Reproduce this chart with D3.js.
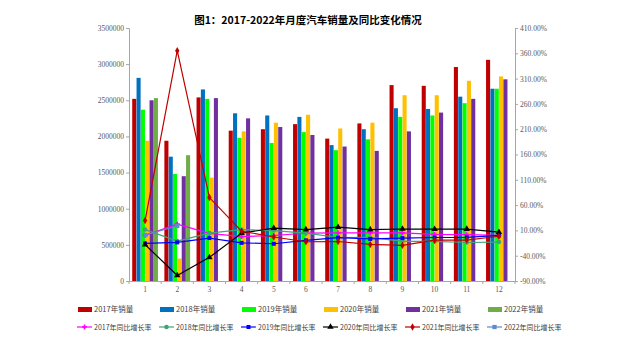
<!DOCTYPE html>
<html>
<head>
<meta charset="utf-8">
<script src="https://cdn.jsdelivr.net/npm/d3@7"></script>
<style>
  body { margin: 0; background: #fff; }
  svg { display: block; }
</style>
</head>
<body>
<svg id="chart" width="640" height="352"></svg>
<script>
// months on the x axis
const months = ["1", "2", "3", "4", "5", "6", "7", "8", "9", "10", "11", "12"];
const years = ["2017", "2018", "2019", "2020", "2021", "2022"];

// monthly sales (vehicles)
const sales2017 = [2520000, 1940000, 2540000, 2080000, 2100000, 2170000, 1970000, 2180000, 2710000, 2700000, 2960000, 3060000];
const sales2018 = [2810000, 1720000, 2650000, 2320000, 2290000, 2270000, 1880000, 2100000, 2390000, 2380000, 2550000, 2660000];
const sales2019 = [2370000, 1480000, 2520000, 1980000, 1910000, 2060000, 1810000, 1960000, 2270000, 2290000, 2460000, 2660000];
const sales2020 = [1940000, 310000, 1430000, 2070000, 2190000, 2300000, 2110000, 2190000, 2570000, 2570000, 2770000, 2830000];
const sales2021 = [2500000, 1450000, 2530000, 2250000, 2130000, 2020000, 1860000, 1800000, 2070000, 2330000, 2520000, 2790000];
const sales2022 = [2530000, 1740000];

// year-on-year growth (%)
const growth2017 = [0.2, 22.4, 4.0, -2.2, -0.1, 4.5, 5.0, 5.3, 5.0, 2.0, 1.6, 0.2];
const growth2018 = [11.6, -11.1, 4.7, 11.5, 9.6, 4.8, -4.0, -3.8, -11.6, -11.7, -13.9, -13.0];
const growth2019 = [-15.8, -13.8, -5.2, -14.6, -16.4, -9.6, -4.3, -6.9, -5.2, -4.0, -3.6, 0.1];
const growth2020 = [-18.0, -79.1, -43.3, 4.4, 14.5, 11.6, 16.4, 11.6, 12.8, 12.5, 12.6, 6.4];
const growth2021 = [29.5, 365.2, 74.9, 8.6, -3.1, -12.4, -11.9, -17.8, -19.6, -9.4, -9.1, -1.6];
const growth2022 = [0.9, 18.7];

const leftTicks = [0, 500000, 1000000, 1500000, 2000000, 2500000, 3000000, 3500000];
const rightTicks = [-90, -40, 10, 60, 110, 160, 210, 260, 310, 360, 410];

const barColors = ["#C00000", "#0070C0", "#00FF00", "#FFC000", "#7030A0", "#70AD47"];
const lineColors = ["#FF00FF", "#3FA37A", "#0000FF", "#000000", "#C00000", "#5B8BD0"];
const markerTypes = [d3.symbolCross, d3.symbolCircle, d3.symbolSquare, d3.symbolTriangle, d3.symbolDiamond, d3.symbolSquare];
const markerSizes = [14, 16, 16, 18, 16, 18];

const salesAll = [sales2017, sales2018, sales2019, sales2020, sales2021, sales2022];
const growthAll = [growth2017, growth2018, growth2019, growth2020, growth2021, growth2022];

const plotLeft = 129, plotRight = 515, plotTop = 28, plotBottom = 281;
const axisColor = "#A6A6A6", labelColor = "#595959";

const svg = d3.select("#chart");

svg.append("text")
  .attr("x", 308).attr("y", 24)
  .attr("text-anchor", "middle")
  .style("font", "bold 10.5px 'Noto Sans CJK SC', sans-serif")
  .attr("fill", "#000")
  .text("图1：2017-2022年月度汽车销量及同比变化情况");

const x0 = d3.scaleBand().domain(months).range([plotLeft, plotRight]).padding(0);
const x1 = d3.scaleBand().domain(years).range([0, x0.bandwidth()]).paddingInner(0.06).paddingOuter(0.74);
const yL = d3.scaleLinear().domain([0, 3500000]).range([plotBottom, plotTop]);
const yR = d3.scaleLinear().domain([-90, 410]).range([plotBottom, plotTop]);

// bars
years.forEach((yr, i) => {
  svg.append("g")
    .selectAll("rect")
    .data(salesAll[i])
    .join("rect")
      .attr("x", (d, j) => x0(months[j]) + x1(yr))
      .attr("y", d => yL(d))
      .attr("width", x1.bandwidth())
      .attr("height", d => plotBottom - yL(d))
      .attr("fill", barColors[i]);
});

// axes
const gL = svg.append("g").attr("transform", `translate(${plotLeft},0)`)
  .call(d3.axisLeft(yL).tickValues(leftTicks).tickFormat(d3.format("d")).tickSize(3).tickPadding(2));
const gR = svg.append("g").attr("transform", `translate(${plotRight},0)`)
  .call(d3.axisRight(yR).tickValues(rightTicks).tickFormat(d => d.toFixed(2) + "%").tickSize(3).tickPadding(2));
const gX = svg.append("g").attr("transform", `translate(0,${plotBottom})`)
  .call(d3.axisBottom(x0).tickSize(0).tickPadding(6));
gX.append("g").selectAll("line")
  .data(months.concat(["end"]))
  .join("line")
    .attr("x1", (d, j) => plotLeft + j * x0.step())
    .attr("x2", (d, j) => plotLeft + j * x0.step())
    .attr("y1", 0).attr("y2", 3)
    .attr("stroke", axisColor);

[gL, gR, gX].forEach(g => {
  g.select(".domain").attr("stroke", axisColor);
  g.selectAll(".tick line").attr("stroke", axisColor);
  g.selectAll("text")
    .attr("fill", labelColor)
    .style("font", "7.5px 'Liberation Serif', serif");
});

// growth lines
const cx = j => x0(months[j]) + x0.bandwidth() / 2;
growthAll.forEach((vals, i) => {
  const line = d3.line().x((d, j) => cx(j)).y(d => yR(d));
  svg.append("path")
    .datum(vals)
    .attr("d", line)
    .attr("fill", "none")
    .attr("stroke", lineColors[i])
    .attr("stroke-width", 1.2);
  svg.append("g")
    .selectAll("path")
    .data(vals)
    .join("path")
      .attr("transform", (d, j) => `translate(${cx(j)},${yR(d)})`)
      .attr("d", d3.symbol().type(markerTypes[i]).size(markerSizes[i]))
      .attr("fill", lineColors[i]);
});

// legend
const legendStep = 82;
const lg1 = svg.append("g");
years.forEach((yr, i) => {
  const lx = 78 + i * legendStep;
  lg1.append("rect").attr("x", lx).attr("y", 307).attr("width", 14).attr("height", 5).attr("fill", barColors[i]);
  lg1.append("text").attr("x", lx + 16).attr("y", 312)
    .style("font", "7.5px 'Noto Sans CJK SC', sans-serif").attr("fill", "#404040")
    .text(yr + "年销量");
});
const lg2 = svg.append("g");
years.forEach((yr, i) => {
  const lx = 77 + i * legendStep;
  lg2.append("line").attr("x1", lx).attr("x2", lx + 15).attr("y1", 327).attr("y2", 327)
    .attr("stroke", lineColors[i]).attr("stroke-width", 1.2);
  lg2.append("path").attr("transform", `translate(${lx + 7.5},327)`)
    .attr("d", d3.symbol().type(markerTypes[i]).size(markerSizes[i]))
    .attr("fill", lineColors[i]);
  lg2.append("text").attr("x", lx + 17).attr("y", 330)
    .style("font", "7px 'Noto Sans CJK SC', sans-serif").attr("fill", "#404040")
    .text(yr + "年同比增长率");
});
</script>
</body>
</html>
